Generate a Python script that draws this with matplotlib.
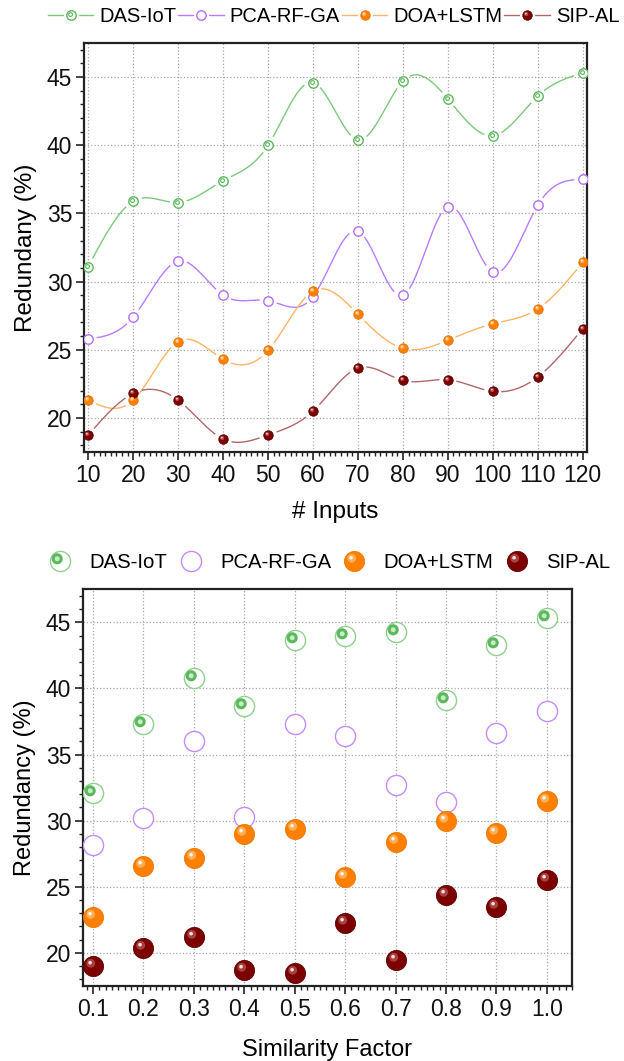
import numpy as np
import matplotlib
matplotlib.use('Agg')
import matplotlib.pyplot as plt
from matplotlib.path import Path
from matplotlib.markers import MarkerStyle
from matplotlib.lines import Line2D
from matplotlib.legend_handler import HandlerTuple
from matplotlib.ticker import MultipleLocator

plt.rcParams['font.family'] = ['Liberation Sans', 'DejaVu Sans']

# ---------------- data ----------------
series_names = ['DAS-IoT', 'PCA-RF-GA', 'DOA+LSTM', 'SIP-AL']

inputs = [10, 20, 30, 40, 50, 60, 70, 80, 90, 100, 110, 120]
das_inputs = [31.1, 35.9, 35.8, 37.4, 40.0, 44.6, 40.4, 44.7, 43.4, 40.7, 43.6, 45.3]
pca_inputs = [25.8, 27.4, 31.5, 29.0, 28.6, 28.9, 33.7, 29.0, 35.5, 30.7, 35.6, 37.5]
doa_inputs = [21.3, 21.3, 25.6, 24.3, 24.95, 29.3, 27.6, 25.1, 25.7, 26.9, 28.0, 31.4]
sip_inputs = [18.75, 21.8, 21.3, 18.45, 18.75, 20.5, 23.65, 22.75, 22.8, 21.95, 23.0, 26.55]

similarity = [0.1, 0.2, 0.3, 0.4, 0.5, 0.6, 0.7, 0.8, 0.9, 1.0]
das_sim = [32.1, 37.3, 40.8, 38.7, 43.7, 44.0, 44.3, 39.1, 43.3, 45.3]
pca_sim = [28.2, 30.2, 36.0, 30.3, 37.3, 36.4, 32.7, 31.4, 36.6, 38.3]
doa_sim = [22.7, 26.6, 27.2, 29.0, 29.4, 25.75, 28.4, 30.0, 29.05, 31.5]
sip_sim = [19.0, 20.4, 21.2, 18.7, 18.45, 22.25, 19.5, 24.4, 23.5, 25.55]

input_ticks = inputs
sim_ticks = similarity
y_ticks = [20, 25, 30, 35, 40, 45]

# ---------------- colours ----------------
GREEN_LINE, GREEN = '#7cc87c', '#5cb85c'
PURPLE_LINE, PURPLE = '#b77cff', '#b56eff'
ORANGE_LINE, ORANGE = '#ffb468', '#ff8000'
RED_LINE, RED = '#b06868', '#7c0000'


def off_circle(cx, cy, r):
    circ = Path.circle((cx, cy), r)
    pad = Path(np.array([[0.5, 0.5], [-0.5, -0.5]]), [Path.MOVETO, Path.MOVETO])
    return MarkerStyle(Path.make_compound_path(circ, pad))


HL_MID = off_circle(-0.14, 0.16, 0.22)
HL_CORE = off_circle(-0.17, 0.19, 0.09)
DOT_TOP = off_circle(-0.1, 0.1, 0.2)
DOT_BIG = off_circle(-0.165, 0.135, 0.2)


def natural_spline(x, y, n=60):
    x = np.asarray(x, float)
    y = np.asarray(y, float)
    m = len(x)
    h = np.diff(x)
    A = np.zeros((m, m))
    b = np.zeros(m)
    A[0, 0] = 1
    A[-1, -1] = 1
    for i in range(1, m - 1):
        A[i, i - 1] = h[i - 1]
        A[i, i] = 2 * (h[i - 1] + h[i])
        A[i, i + 1] = h[i]
        b[i] = 6 * ((y[i + 1] - y[i]) / h[i] - (y[i] - y[i - 1]) / h[i - 1])
    M = np.linalg.solve(A, b)
    xs, ys = [], []
    for i in range(m - 1):
        t = np.linspace(x[i], x[i + 1], n)
        a = x[i + 1] - t
        c = t - x[i]
        s = (M[i] * a ** 3 + M[i + 1] * c ** 3) / (6 * h[i]) \
            + (y[i] / h[i] - M[i] * h[i] / 6) * a + (y[i + 1] / h[i] - M[i + 1] * h[i] / 6) * c
        xs.append(t)
        ys.append(s)
    return np.concatenate(xs), np.concatenate(ys)


def sphere(ax, x, y, ms, base, edge, mid, core, z):
    l1, = ax.plot(x, y, ls='none', marker='o', ms=ms, mfc=base, mec=edge, mew=0.6, zorder=z)
    l2, = ax.plot(x, y, ls='none', marker=HL_MID, ms=ms, mfc=mid, mec='none', zorder=z + 0.1)
    l3, = ax.plot(x, y, ls='none', marker=HL_CORE, ms=ms, mfc=core, mec='none', zorder=z + 0.2)
    return (l1, l2, l3)


def style_axes(ax, xminor):
    for s in ax.spines.values():
        s.set_linewidth(1.6)
        s.set_color('#222222')
    ax.tick_params(which='both', direction='out', top=False, right=False, colors='#222222')
    ax.tick_params(which='major', length=5.5, width=1.2, labelsize=16.5, pad=3, labelcolor='#111111')
    ax.tick_params(which='minor', length=3, width=1.0)
    ax.yaxis.set_major_locator(MultipleLocator(5))
    ax.yaxis.set_minor_locator(MultipleLocator(1))
    ax.xaxis.set_minor_locator(MultipleLocator(xminor))
    ax.grid(True, which='major', ls=':', color='#a8a8a8', lw=0.9)
    ax.set_axisbelow(True)


fig = plt.figure(figsize=(6.24, 10.61), dpi=100)

# ================= TOP: # Inputs =================
ax1 = fig.add_axes([84 / 624, 1 - 452 / 1061, 503 / 624, 409 / 1061])
ax1.set_xlim(9.04, 120.96)
ax1.set_ylim(17.5, 47.5)
ax1.set_xticks(input_ticks)
ax1.set_yticks(y_ticks)
style_axes(ax1, 1.25)
ax1.set_xlabel('# Inputs', fontsize=17.5, labelpad=10)
ax1.set_ylabel('Redundany (%)', fontsize=17.5, labelpad=7)

top_series = [
    (das_inputs, GREEN_LINE), (pca_inputs, PURPLE_LINE),
    (doa_inputs, ORANGE_LINE), (sip_inputs, RED_LINE)]
gap_px = 9.0
for ys, lc in top_series:
    sx, sy = natural_spline(inputs, ys)
    pts = ax1.transData.transform(np.column_stack([sx, sy]))
    mk = ax1.transData.transform(np.column_stack([inputs, ys]))
    d = np.min(np.hypot(pts[:, None, 0] - mk[None, :, 0], pts[:, None, 1] - mk[None, :, 1]), axis=1)
    sy = sy.copy()
    sy[d < gap_px] = np.nan
    ax1.plot(sx, sy, color=lc, lw=1.0, zorder=3)

ms_t = 6.8
ax1.plot(inputs, das_inputs, ls='none', marker='o', ms=ms_t, mfc='white', mec=GREEN, mew=1.0, zorder=5)
ax1.plot(inputs, das_inputs, ls='none', marker=DOT_TOP, ms=ms_t, mfc='none', mec=GREEN, mew=0.8, zorder=5.1)
ax1.plot(inputs, pca_inputs, ls='none', marker='o', ms=ms_t, mfc='white', mec=PURPLE, mew=1.0, zorder=5)
sphere(ax1, inputs, doa_inputs, ms_t, ORANGE, '#e87000', '#ffb060', '#fff2e0', 5)
sphere(ax1, inputs, sip_inputs, ms_t, RED, '#5a0000', '#b04848', '#f4d8d8', 5)


def top_handle(lc, mfc, mec, extra=None, sph=None):
    line = Line2D([], [], color=lc, lw=1.0)
    halo = Line2D([], [], ls='none', marker='o', ms=ms_t + 4, mfc='white', mec='none')
    if sph is not None:
        base, edge, mid, core = sph
        return (line, halo,
                Line2D([], [], ls='none', marker='o', ms=ms_t, mfc=base, mec=edge, mew=0.6),
                Line2D([], [], ls='none', marker=HL_MID, ms=ms_t, mfc=mid, mec='none'),
                Line2D([], [], ls='none', marker=HL_CORE, ms=ms_t, mfc=core, mec='none'))
    h = [line, halo, Line2D([], [], ls='none', marker='o', ms=ms_t, mfc=mfc, mec=mec, mew=1.0)]
    if extra is not None:
        h.append(Line2D([], [], ls='none', marker=DOT_TOP, ms=ms_t, mfc='none', mec=mec, mew=0.8))
    return tuple(h)


top_handles = [
    top_handle(GREEN_LINE, 'white', GREEN, extra=True),
    top_handle(PURPLE_LINE, 'white', PURPLE),
    top_handle(ORANGE_LINE, None, None, sph=(ORANGE, '#e87000', '#ffb060', '#fff2e0')),
    top_handle(RED_LINE, None, None, sph=(RED, '#5a0000', '#b04848', '#f4d8d8')),
]
fig.legend(top_handles, series_names, loc='center left', bbox_to_anchor=(48 / 624, 1 - 17 / 1061),
           ncol=4, frameon=False, fontsize=14.5, handlelength=2.25, handletextpad=0.3,
           columnspacing=0.1, borderpad=0, borderaxespad=0,
           handler_map={tuple: HandlerTuple(ndivide=1, pad=0)})

# ================= BOTTOM: Similarity Factor =================
ax2 = fig.add_axes([83 / 624, 1 - 986 / 1061, 489 / 624, 396.7 / 1061])
ax2.set_xlim(0.08, 1.05)
ax2.set_ylim(17.5, 47.5)
ax2.set_xticks(sim_ticks)
ax2.set_xticklabels([f'{v:.1f}' for v in sim_ticks])
ax2.set_yticks(y_ticks)
style_axes(ax2, 0.0125)
ax2.set_xlabel('Similarity Factor', fontsize=17, labelpad=13)
ax2.set_ylabel('Redundancy (%)', fontsize=17, labelpad=7)

ms_b = 14.5
d1, = ax2.plot(similarity, das_sim, ls='none', marker='o', ms=ms_b, mfc='white', mec='#8fd08f', mew=1.0, zorder=4)
d2, = ax2.plot(similarity, das_sim, ls='none', marker=DOT_BIG, ms=ms_b, mfc='#c8ecc8', mec=GREEN, mew=2.2, zorder=4.1)
p1, = ax2.plot(similarity, pca_sim, ls='none', marker='o', ms=ms_b, mfc='white', mec='#c58cff', mew=1.0, zorder=4.2)
o_h = sphere(ax2, similarity, doa_sim, ms_b, ORANGE, '#ee7800', '#ffae55', '#fff4ea', 5)
s_h = sphere(ax2, similarity, sip_sim, ms_b, RED, '#5a0000', '#a84040', '#f6dede', 6)

fig.legend([(d1, d2), (p1,), o_h, s_h], series_names, loc='center left',
           bbox_to_anchor=(45.8 / 624, 1 - 563 / 1061), ncol=4, frameon=False, fontsize=14.6,
           handlelength=1.4, handletextpad=0.75, columnspacing=0.45, borderpad=0, borderaxespad=0,
           handler_map={tuple: HandlerTuple(ndivide=1, pad=0)})

fig.savefig('out.png', dpi=100)
